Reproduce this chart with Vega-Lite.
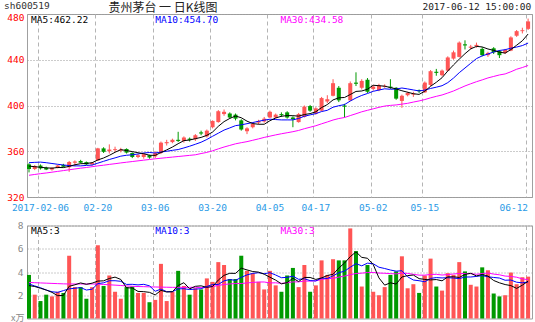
{
  "$schema": "https://vega.github.io/schema/vega-lite/v6.json",
  "autosize": {"type": "pad"},
  "padding": {"left": 3, "top": 0, "right": 3.5, "bottom": 0},
  "background": "#ffffff",
  "spacing": 28.5,
  "bounds": "flush",
  "config": {
    "view": {"stroke": "#a0a0a0", "strokeWidth": 1},
    "axis": {"labelFont": "DejaVu Sans Mono", "labelFontSize": 9.5, "domain": false, "ticks": false, "title": null, "labelOverlap": false},
    "line": {"strokeWidth": 1}
  },
  "datasets": {
    "k": [
      {"d":"2017-01-26","o":348.5,"h":349.5,"l":341.5,"c":344.5,"v":3.75,"m5":347,"m10":350,"m30":339,"n5":2.83,"n10":2.97,"n30":3.1},
      {"d":"2017-02-03","o":344.5,"h":348,"l":343.5,"c":347,"v":2.05,"m5":346.5,"m10":350.3,"m30":339.7,"n5":2.75,"n10":2.8,"n30":3.08},
      {"d":"2017-02-06","o":347.5,"h":348.5,"l":344,"c":345,"v":1.5,"m5":346,"m10":350.5,"m30":340.4,"n5":2.6,"n10":2.65,"n30":3.06},
      {"d":"2017-02-07","o":345.5,"h":346.5,"l":343.5,"c":344,"v":2.05,"m5":345.5,"m10":350,"m30":341,"n5":2.45,"n10":2.45,"n30":3.04},
      {"d":"2017-02-08","o":344,"h":346,"l":343,"c":345.5,"v":1.9,"m5":345.2,"m10":349.3,"m30":341.7,"n5":2.25,"n10":2.3,"n30":3.02},
      {"d":"2017-02-09","o":345.5,"h":348,"l":345,"c":347.5,"v":2.3,"m5":345.8,"m10":348.6,"m30":342.4,"n5":1.96,"n10":2.25,"n30":3.0},
      {"d":"2017-02-10","o":348,"h":349,"l":346,"c":346.5,"v":2.2,"m5":345.7,"m10":348,"m30":343.1,"n5":1.99,"n10":2.4,"n30":2.98},
      {"d":"2017-02-13","o":346,"h":351.5,"l":342,"c":350.5,"v":5.4,"m5":346.8,"m10":347.5,"m30":343.8,"n5":2.77,"n10":2.55,"n30":2.97},
      {"d":"2017-02-14","o":350,"h":352,"l":347,"c":351,"v":2.7,"m5":348.2,"m10":347.2,"m30":344.5,"n5":2.9,"n10":2.6,"n30":2.97},
      {"d":"2017-02-15","o":351.5,"h":352.5,"l":349.5,"c":350,"v":2.7,"m5":349.1,"m10":347.2,"m30":345.2,"n5":3.06,"n10":2.66,"n30":2.97},
      {"d":"2017-02-16","o":350.5,"h":351,"l":348,"c":348.5,"v":1.7,"m5":349.3,"m10":347.6,"m30":345.8,"n5":2.94,"n10":2.45,"n30":2.97},
      {"d":"2017-02-17","o":348.5,"h":350.5,"l":347.5,"c":350,"v":2.7,"m5":350,"m10":347.9,"m30":346.5,"n5":3.04,"n10":2.52,"n30":2.97},
      {"d":"2017-02-20","o":352,"h":363,"l":351.5,"c":362.5,"v":6.3,"m5":352.4,"m10":349.6,"m30":347.2,"n5":3.22,"n10":3.0,"n30":2.96},
      {"d":"2017-02-21","o":362.5,"h":363.5,"l":358.5,"c":359.5,"v":2.8,"m5":354.1,"m10":351.2,"m30":347.8,"n5":3.24,"n10":3.07,"n30":2.93},
      {"d":"2017-02-22","o":360,"h":366,"l":358,"c":361.5,"v":3.7,"m5":356.4,"m10":352.8,"m30":348.5,"n5":3.44,"n10":3.25,"n30":2.9},
      {"d":"2017-02-23","o":361,"h":364,"l":359.5,"c":361.8,"v":2.3,"m5":359.1,"m10":354.2,"m30":349.1,"n5":3.56,"n10":3.25,"n30":2.87},
      {"d":"2017-02-24","o":360.5,"h":363,"l":359,"c":361.5,"v":1.7,"m5":361.4,"m10":355.7,"m30":349.8,"n5":3.36,"n10":3.2,"n30":2.84},
      {"d":"2017-02-27","o":362,"h":362.5,"l":358,"c":358.8,"v":2.7,"m5":360.6,"m10":356.5,"m30":350.4,"n5":2.64,"n10":2.93,"n30":2.8},
      {"d":"2017-02-28","o":358.5,"h":359,"l":354,"c":355,"v":2.75,"m5":359.7,"m10":356.9,"m30":351,"n5":2.63,"n10":2.94,"n30":2.77},
      {"d":"2017-03-01","o":355,"h":357.5,"l":354,"c":356.5,"v":2.2,"m5":358.7,"m10":357.6,"m30":351.6,"n5":2.33,"n10":2.89,"n30":2.75},
      {"d":"2017-03-02","o":355,"h":358,"l":353.5,"c":357.5,"v":2.2,"m5":357.9,"m10":358.5,"m30":352.2,"n5":2.31,"n10":2.94,"n30":2.74},
      {"d":"2017-03-03","o":356.5,"h":357,"l":353.5,"c":354.5,"v":1.4,"m5":356.5,"m10":358.9,"m30":352.8,"n5":2.25,"n10":2.81,"n30":2.72},
      {"d":"2017-03-06","o":355.5,"h":360,"l":354,"c":358.5,"v":1.6,"m5":356.4,"m10":358.5,"m30":353.4,"n5":2.03,"n10":2.34,"n30":2.71},
      {"d":"2017-03-07","o":358.5,"h":368.5,"l":357.5,"c":367.5,"v":4.7,"m5":358.9,"m10":359.3,"m30":353.9,"n5":2.42,"n10":2.53,"n30":2.7},
      {"d":"2017-03-08","o":367,"h":370,"l":365,"c":368,"v":1.5,"m5":361.2,"m10":360,"m30":354.4,"n5":2.28,"n10":2.31,"n30":2.69},
      {"d":"2017-03-09","o":368,"h":371,"l":367,"c":370,"v":2.3,"m5":363.7,"m10":360.8,"m30":354.9,"n5":2.3,"n10":2.31,"n30":2.68},
      {"d":"2017-03-10","o":370,"h":377,"l":368,"c":369,"v":4.1,"m5":366.6,"m10":361.5,"m30":355.4,"n5":2.84,"n10":2.55,"n30":2.68},
      {"d":"2017-03-13","o":369,"h":373,"l":367.5,"c":372,"v":2.8,"m5":369.3,"m10":362.9,"m30":355.9,"n5":3.08,"n10":2.56,"n30":2.68},
      {"d":"2017-03-14","o":371,"h":372,"l":368.5,"c":370,"v":2.05,"m5":369.8,"m10":364.4,"m30":356.4,"n5":2.55,"n10":2.49,"n30":2.68},
      {"d":"2017-03-15","o":370.5,"h":375,"l":369,"c":374,"v":2.6,"m5":371,"m10":366.1,"m30":356.9,"n5":2.77,"n10":2.53,"n30":2.69},
      {"d":"2017-03-16","o":376.5,"h":378,"l":374,"c":375.5,"v":2.5,"m5":372.1,"m10":367.9,"m30":358,"n5":2.81,"n10":2.56,"n30":2.65},
      {"d":"2017-03-17","o":373,"h":379,"l":372,"c":378,"v":3.45,"m5":373.9,"m10":370.3,"m30":359,"n5":2.68,"n10":2.76,"n30":2.69},
      {"d":"2017-03-20","o":381,"h":387,"l":380,"c":386.5,"v":3.15,"m5":376.8,"m10":373.1,"m30":360.4,"n5":2.75,"n10":2.92,"n30":2.75},
      {"d":"2017-03-21","o":385.5,"h":396,"l":385,"c":395,"v":4.85,"m5":381.8,"m10":375.8,"m30":362.1,"n5":3.31,"n10":2.93,"n30":2.84},
      {"d":"2017-03-22","o":392.5,"h":396.5,"l":391,"c":394.5,"v":4.6,"m5":385.9,"m10":378.5,"m30":363.7,"n5":3.71,"n10":3.24,"n30":2.93},
      {"d":"2017-03-23","o":393,"h":394,"l":388.5,"c":389.5,"v":3.4,"m5":388.7,"m10":380.4,"m30":365.1,"n5":3.89,"n10":3.35,"n30":2.97},
      {"d":"2017-03-24","o":392,"h":393,"l":387,"c":388.5,"v":3.4,"m5":390.8,"m10":382.4,"m30":366.5,"n5":3.88,"n10":3.28,"n30":3.01},
      {"d":"2017-03-27","o":387,"h":388,"l":378,"c":379,"v":5.4,"m5":389.3,"m10":383.1,"m30":367.5,"n5":4.33,"n10":3.54,"n30":3.01},
      {"d":"2017-03-28","o":377.5,"h":381,"l":375,"c":380,"v":4.1,"m5":386.3,"m10":384.1,"m30":368.4,"n5":4.18,"n10":3.75,"n30":3.06},
      {"d":"2017-03-29","o":381,"h":385.5,"l":380,"c":384,"v":3.9,"m5":384.2,"m10":385.1,"m30":369.6,"n5":4.04,"n10":3.88,"n30":3.1},
      {"d":"2017-03-30","o":385,"h":387.5,"l":383.5,"c":386.5,"v":3.15,"m5":383.6,"m10":386.2,"m30":370.8,"n5":3.99,"n10":3.94,"n30":3.14},
      {"d":"2017-03-31","o":386,"h":390,"l":385,"c":388.5,"v":2.5,"m5":383.6,"m10":387.2,"m30":372.1,"n5":3.81,"n10":3.85,"n30":3.14},
      {"d":"2017-04-05","o":389.5,"h":395.5,"l":389,"c":394.5,"v":4.1,"m5":386.7,"m10":388,"m30":373.2,"n5":3.55,"n10":3.94,"n30":3.06},
      {"d":"2017-04-06","o":389.5,"h":393,"l":388.5,"c":392,"v":2.85,"m5":389.1,"m10":387.7,"m30":374.3,"n5":3.3,"n10":3.74,"n30":3.07},
      {"d":"2017-04-07","o":392.5,"h":394,"l":390,"c":391.5,"v":2.3,"m5":390.6,"m10":387.4,"m30":375.3,"n5":2.98,"n10":3.51,"n30":3.02},
      {"d":"2017-04-10","o":394,"h":395,"l":388.5,"c":389.5,"v":3.7,"m5":391.2,"m10":387.4,"m30":376.2,"n5":3.09,"n10":3.54,"n30":3.07},
      {"d":"2017-04-11","o":389.5,"h":390.5,"l":381,"c":388,"v":4.35,"m5":391.1,"m10":387.4,"m30":377.1,"n5":3.46,"n10":3.64,"n30":3.15},
      {"d":"2017-04-12","o":385.5,"h":393.5,"l":385,"c":392.5,"v":2.7,"m5":390.7,"m10":388.7,"m30":378.2,"n5":3.18,"n10":3.37,"n30":3.15},
      {"d":"2017-04-13","o":390,"h":400,"l":389.5,"c":399,"v":4.6,"m5":392.1,"m10":390.6,"m30":379.7,"n5":3.53,"n10":3.42,"n30":3.22},
      {"d":"2017-04-14","o":399.5,"h":400.5,"l":394.5,"c":395.5,"v":2.3,"m5":392.9,"m10":391.8,"m30":381,"n5":3.53,"n10":3.26,"n30":3.22},
      {"d":"2017-04-17","o":393,"h":398.5,"l":392,"c":397.5,"v":2.85,"m5":394.5,"m10":392.9,"m30":382.3,"n5":3.36,"n10":3.23,"n30":3.24},
      {"d":"2017-04-18","o":395.5,"h":407.5,"l":395,"c":406.5,"v":5.0,"m5":398.2,"m10":394.7,"m30":384,"n5":3.49,"n10":3.48,"n30":3.36},
      {"d":"2017-04-19","o":403.5,"h":409,"l":402,"c":405.5,"v":3.75,"m5":400.8,"m10":395.8,"m30":385.6,"n5":3.7,"n10":3.44,"n30":3.43},
      {"d":"2017-04-20","o":408.5,"h":423,"l":408,"c":419.5,"v":5.1,"m5":404.9,"m10":398.5,"m30":387.3,"n5":3.8,"n10":3.67,"n30":3.45},
      {"d":"2017-04-21","o":415.5,"h":417,"l":403,"c":404.5,"v":5.0,"m5":406.7,"m10":399.8,"m30":388.6,"n5":4.34,"n10":3.94,"n30":3.56},
      {"d":"2017-04-24","o":400,"h":401.5,"l":389.5,"c":399,"v":5.0,"m5":407,"m10":400.8,"m30":389.5,"n5":4.77,"n10":4.07,"n30":3.65},
      {"d":"2017-04-25","o":404.5,"h":421,"l":404,"c":419.5,"v":7.75,"m5":409.6,"m10":403.9,"m30":391.2,"n5":5.32,"n10":4.41,"n30":3.77},
      {"d":"2017-04-26","o":420,"h":429,"l":417,"c":419,"v":5.8,"m5":412.3,"m10":406.6,"m30":392.8,"n5":5.73,"n10":4.72,"n30":3.87},
      {"d":"2017-04-27","o":415.5,"h":423,"l":414,"c":421.5,"v":2.75,"m5":412.7,"m10":408.8,"m30":394.5,"n5":5.26,"n10":4.53,"n30":3.9},
      {"d":"2017-04-28","o":422.5,"h":424,"l":411,"c":412,"v":4.6,"m5":414.2,"m10":410.5,"m30":395.8,"n5":5.18,"n10":4.76,"n30":3.96},
      {"d":"2017-05-02","o":414.5,"h":418,"l":413,"c":416.5,"v":2.3,"m5":417.7,"m10":412.4,"m30":397.1,"n5":4.64,"n10":4.71,"n30":3.96},
      {"d":"2017-05-03","o":413.5,"h":419,"l":412.5,"c":417.5,"v":2.0,"m5":417.3,"m10":413.5,"m30":398.4,"n5":3.49,"n10":4.41,"n30":3.91},
      {"d":"2017-05-04","o":416.5,"h":418.5,"l":415.5,"c":417.2,"v":2.7,"m5":416.9,"m10":414.6,"m30":399.5,"n5":2.87,"n10":4.3,"n30":3.89},
      {"d":"2017-05-05","o":416.5,"h":423,"l":414.5,"c":415.5,"v":3.75,"m5":415.7,"m10":414.2,"m30":400.1,"n5":3.07,"n10":4.17,"n30":3.86},
      {"d":"2017-05-08","o":415.5,"h":416,"l":405,"c":406,"v":4.05,"m5":414.5,"m10":414.4,"m30":400.5,"n5":2.96,"n10":4.07,"n30":3.84},
      {"d":"2017-05-09","o":404,"h":409.5,"l":398,"c":408.5,"v":5.35,"m5":412.9,"m10":415.3,"m30":401.2,"n5":3.57,"n10":4.11,"n30":3.9},
      {"d":"2017-05-10","o":409,"h":412,"l":408,"c":411,"v":2.6,"m5":411.6,"m10":414.5,"m30":401.9,"n5":3.69,"n10":3.59,"n30":3.88},
      {"d":"2017-05-11","o":409.5,"h":412,"l":407.5,"c":410.5,"v":2.95,"m5":410.3,"m10":413.6,"m30":403,"n5":3.74,"n10":3.31,"n30":3.8},
      {"d":"2017-05-12","o":413.5,"h":414,"l":411,"c":412.5,"v":2.2,"m5":409.7,"m10":412.7,"m30":404,"n5":3.43,"n10":3.25,"n30":3.73},
      {"d":"2017-05-15","o":411.5,"h":421,"l":411,"c":420,"v":3.7,"m5":412.5,"m10":413.5,"m30":405.2,"n5":3.36,"n10":3.16,"n30":3.73},
      {"d":"2017-05-16","o":418,"h":431,"l":417,"c":430,"v":5.15,"m5":416.8,"m10":414.9,"m30":406.7,"n5":3.32,"n10":3.45,"n30":3.79},
      {"d":"2017-05-17","o":429.5,"h":432,"l":426,"c":428.5,"v":2.75,"m5":420.3,"m10":416,"m30":408,"n5":3.35,"n10":3.52,"n30":3.8},
      {"d":"2017-05-18","o":426.5,"h":431.5,"l":425.5,"c":430.5,"v":2.4,"m5":424.3,"m10":417.3,"m30":409.2,"n5":3.24,"n10":3.49,"n30":3.74},
      {"d":"2017-05-19","o":430.5,"h":443,"l":430,"c":442,"v":3.9,"m5":430.2,"m10":420,"m30":410.9,"n5":3.58,"n10":3.51,"n30":3.78},
      {"d":"2017-05-22","o":441,"h":448,"l":440,"c":446.5,"v":3.75,"m5":435.5,"m10":424,"m30":412.7,"n5":3.59,"n10":3.48,"n30":3.83},
      {"d":"2017-05-23","o":442.5,"h":456,"l":442,"c":455,"v":4.85,"m5":440.5,"m10":428.7,"m30":414.9,"n5":3.53,"n10":3.43,"n30":3.87},
      {"d":"2017-05-24","o":453.5,"h":457,"l":449,"c":452.5,"v":4.05,"m5":445.3,"m10":432.8,"m30":417.1,"n5":3.79,"n10":3.57,"n30":3.86},
      {"d":"2017-05-25","o":450.5,"h":453,"l":449,"c":451.5,"v":2.9,"m5":449.5,"m10":436.9,"m30":419,"n5":3.89,"n10":3.57,"n30":3.86},
      {"d":"2017-05-26","o":452,"h":455,"l":450.5,"c":453,"v":2.75,"m5":451.7,"m10":441,"m30":420.8,"n5":3.66,"n10":3.62,"n30":3.8},
      {"d":"2017-05-31","o":449.5,"h":451,"l":443,"c":444,"v":4.4,"m5":451.2,"m10":443.4,"m30":422.4,"n5":3.79,"n10":3.69,"n30":3.87},
      {"d":"2017-06-01","o":444,"h":447,"l":442.5,"c":446,"v":4.15,"m5":449.4,"m10":445,"m30":424.1,"n5":3.65,"n10":3.59,"n30":3.91},
      {"d":"2017-06-02","o":450,"h":451,"l":445,"c":446.5,"v":2.15,"m5":448.2,"m10":446.8,"m30":425.4,"n5":3.27,"n10":3.53,"n30":3.82},
      {"d":"2017-06-05","o":447.5,"h":448.5,"l":441.5,"c":444,"v":1.9,"m5":446.7,"m10":448.1,"m30":426.7,"n5":3.07,"n10":3.48,"n30":3.76},
      {"d":"2017-06-06","o":446,"h":449.5,"l":445,"c":448.5,"v":2.0,"m5":445.8,"m10":448.8,"m30":427.6,"n5":2.92,"n10":3.29,"n30":3.65},
      {"d":"2017-06-07","o":448,"h":460.5,"l":447.5,"c":459.5,"v":3.95,"m5":448.9,"m10":450.1,"m30":429.5,"n5":2.83,"n10":3.31,"n30":3.62},
      {"d":"2017-06-08","o":461,"h":466,"l":460,"c":465,"v":2.95,"m5":452.7,"m10":451.1,"m30":431.7,"n5":2.59,"n10":3.12,"n30":3.55},
      {"d":"2017-06-09","o":465,"h":468,"l":463,"c":465.8,"v":3.55,"m5":456.6,"m10":452.4,"m30":433.2,"n5":2.87,"n10":3.07,"n30":3.41},
      {"d":"2017-06-12","o":467,"h":476,"l":466,"c":473.5,"v":3.6,"m5":462.5,"m10":454.6,"m30":435,"n5":3.21,"n10":3.14,"n30":3.34}
    ]
  },
  "vconcat": [
    {
      "width": 505,
      "height": 183,
      "data": {"name": "k"},
      "encoding": {
        "x": {
          "field": "d", "type": "ordinal", "sort": null,
          "scale": {"type": "band", "paddingInner": 0.3, "paddingOuter": 0.165, "align": 0},
          "axis": {
            "values": ["2017-02-06","2017-02-20","2017-03-06","2017-03-20","2017-04-05","2017-04-17","2017-05-02","2017-05-15","2017-06-12"],
            "labelExpr": "datum.value == '2017-02-06' ? datum.value : slice(datum.value, 5)",
            "bandPosition": 0, "grid": true, "gridDash": [4, 3], "gridColor": "#b4b4b4",
            "labelColor": "#2a9ae6", "labelAngle": 0, "labelPadding": 5, "labelBaseline": "top", "labelFlush": 8
          }
        }
      },
      "layer": [
        {
          "mark": {"type": "rule", "strokeWidth": 1},
          "encoding": {
            "y": {"field": "l", "type": "quantitative",
                  "scale": {"domain": [320, 480], "nice": false, "zero": false},
                  "axis": {"values": [320, 360, 400, 440, 480], "grid": true, "gridDash": [1, 2], "gridColor": "#999999", "labelColor": "#ff0000", "labelPadding": 3,
                           "labelOffset": {"condition": {"test": "datum.value >= 480", "value": 3}, "value": 0}}},
            "y2": {"field": "h"},
            "color": {"condition": {"test": "datum.c >= datum.o", "value": "#ff5555"}, "value": "#009900"}
          }
        },
        {
          "mark": {"type": "bar"},
          "encoding": {
            "y": {"field": "o", "type": "quantitative"},
            "y2": {"field": "c"},
            "color": {"condition": {"test": "datum.c >= datum.o", "value": "#ff5555"}, "value": "#009900"}
          }
        },
        {"mark": {"type": "line", "color": "#ff00ff"}, "encoding": {"y": {"field": "m30", "type": "quantitative"}}},
        {"mark": {"type": "line", "color": "#0000ff"}, "encoding": {"y": {"field": "m10", "type": "quantitative"}}},
        {"mark": {"type": "line", "color": "#000000"}, "encoding": {"y": {"field": "m5", "type": "quantitative"}}},
        {
          "data": {"values": [{}]},
          "mark": {"type": "text", "text": "MA5:462.22", "align": "left", "baseline": "middle", "font": "DejaVu Sans Mono", "fontSize": 9.5, "color": "#000000", "dx": 2},
          "encoding": {"x": {"datum": "2017-01-26"}, "y": {"datum": 474.6}}
        },
        {
          "data": {"values": [{}]},
          "mark": {"type": "text", "text": "MA10:454.70", "align": "left", "baseline": "middle", "font": "DejaVu Sans Mono", "fontSize": 9.5, "color": "#0000ff", "dx": 0},
          "encoding": {"x": {"datum": "2017-03-06"}, "y": {"datum": 474.6}}
        },
        {
          "data": {"values": [{}]},
          "mark": {"type": "text", "text": "MA30:434.58", "align": "left", "baseline": "middle", "font": "DejaVu Sans Mono", "fontSize": 9.5, "color": "#ff00ff", "dx": -1},
          "encoding": {"x": {"datum": "2017-04-07"}, "y": {"datum": 474.6}}
        },
        {
          "data": {"values": [{}]},
          "mark": {"type": "text", "text": "sh600519", "align": "left", "baseline": "middle", "font": "DejaVu Sans Mono", "fontSize": 9.5, "color": "#333333", "dx": -25},
          "encoding": {"x": {"datum": "2017-01-26"}, "y": {"datum": 487}}
        },
        {
          "data": {"values": [{}]},
          "mark": {"type": "text", "text": "贵州茅台 一 日K线图", "align": "center", "baseline": "middle", "font": "Noto Sans CJK SC", "fontSize": 12, "color": "#222222", "dx": 2},
          "encoding": {"x": {"datum": "2017-03-07"}, "y": {"datum": 485.3}}
        },
        {
          "data": {"values": [{}]},
          "mark": {"type": "text", "text": "2017-06-12 15:00:00", "align": "right", "baseline": "middle", "font": "DejaVu Sans Mono", "fontSize": 9.5, "color": "#222222", "dx": 3},
          "encoding": {"x": {"datum": "2017-06-12"}, "y": {"datum": 486}}
        }
      ]
    },
    {
      "width": 505,
      "height": 93,
      "data": {"name": "k"},
      "encoding": {
        "x": {
          "field": "d", "type": "ordinal", "sort": null,
          "scale": {"type": "band", "paddingInner": 0.3, "paddingOuter": 0.165, "align": 0},
          "axis": {
            "values": ["2017-02-06","2017-02-20","2017-03-06","2017-03-20","2017-04-05","2017-04-17","2017-05-02","2017-05-15","2017-06-12"],
            "labels": false, "bandPosition": 0, "grid": true, "gridDash": [4, 3], "gridColor": "#b4b4b4"
          }
        },
        "y": {"type": "quantitative",
              "scale": {"domain": [0, 8], "nice": false},
              "axis": {"values": [2, 4, 6, 8], "grid": true, "gridDash": [1, 2], "gridColor": "#999999", "labelColor": "#888888", "labelPadding": 4, "labelOverlap": false}}
      },
      "layer": [
        {
          "mark": {"type": "bar"},
          "encoding": {
            "y": {"field": "v", "type": "quantitative", "stack": null,
                  "scale": {"domain": [0, 8], "nice": false},
                  "axis": {"values": [2, 4, 6, 8], "grid": true, "gridDash": [1, 2], "gridColor": "#999999", "labelColor": "#888888", "labelPadding": 4, "labelOverlap": false}},
            "color": {"condition": {"test": "datum.c >= datum.o", "value": "#ff5555"}, "value": "#009900"}
          }
        },
        {"mark": {"type": "line", "color": "#ff00ff"}, "encoding": {"y": {"field": "n30", "type": "quantitative", "axis": {"values": [2, 4, 6, 8], "grid": true, "gridDash": [1, 2], "gridColor": "#999999", "labelColor": "#888888", "labelPadding": 4, "labelOverlap": false}}}},
        {"mark": {"type": "line", "color": "#0000ff"}, "encoding": {"y": {"field": "n10", "type": "quantitative", "axis": {"values": [2, 4, 6, 8], "grid": true, "gridDash": [1, 2], "gridColor": "#999999", "labelColor": "#888888", "labelPadding": 4, "labelOverlap": false}}}},
        {"mark": {"type": "line", "color": "#000000"}, "encoding": {"y": {"field": "n5", "type": "quantitative", "axis": {"values": [2, 4, 6, 8], "grid": true, "gridDash": [1, 2], "gridColor": "#999999", "labelColor": "#888888", "labelPadding": 4, "labelOverlap": false}}}},
        {
          "data": {"values": [{}]},
          "mark": {"type": "text", "text": "MA5:3", "align": "left", "baseline": "middle", "font": "DejaVu Sans Mono", "fontSize": 9.5, "color": "#000000", "dx": 2},
          "encoding": {"x": {"datum": "2017-01-26"}, "y": {"datum": 7.5}}
        },
        {
          "data": {"values": [{}]},
          "mark": {"type": "text", "text": "MA10:3", "align": "left", "baseline": "middle", "font": "DejaVu Sans Mono", "fontSize": 9.5, "color": "#0000ff", "dx": 0},
          "encoding": {"x": {"datum": "2017-03-06"}, "y": {"datum": 7.5}}
        },
        {
          "data": {"values": [{}]},
          "mark": {"type": "text", "text": "MA30:3", "align": "left", "baseline": "middle", "font": "DejaVu Sans Mono", "fontSize": 9.5, "color": "#ff00ff", "dx": -1},
          "encoding": {"x": {"datum": "2017-04-07"}, "y": {"datum": 7.5}}
        },
        {
          "data": {"values": [{}]},
          "mark": {"type": "text", "text": "x万", "align": "left", "baseline": "bottom", "font": "Noto Sans CJK SC", "fontSize": 9, "color": "#888888", "dx": -18},
          "encoding": {"x": {"datum": "2017-01-26"}, "y": {"datum": -0.35}}
        }
      ]
    }
  ]
}
